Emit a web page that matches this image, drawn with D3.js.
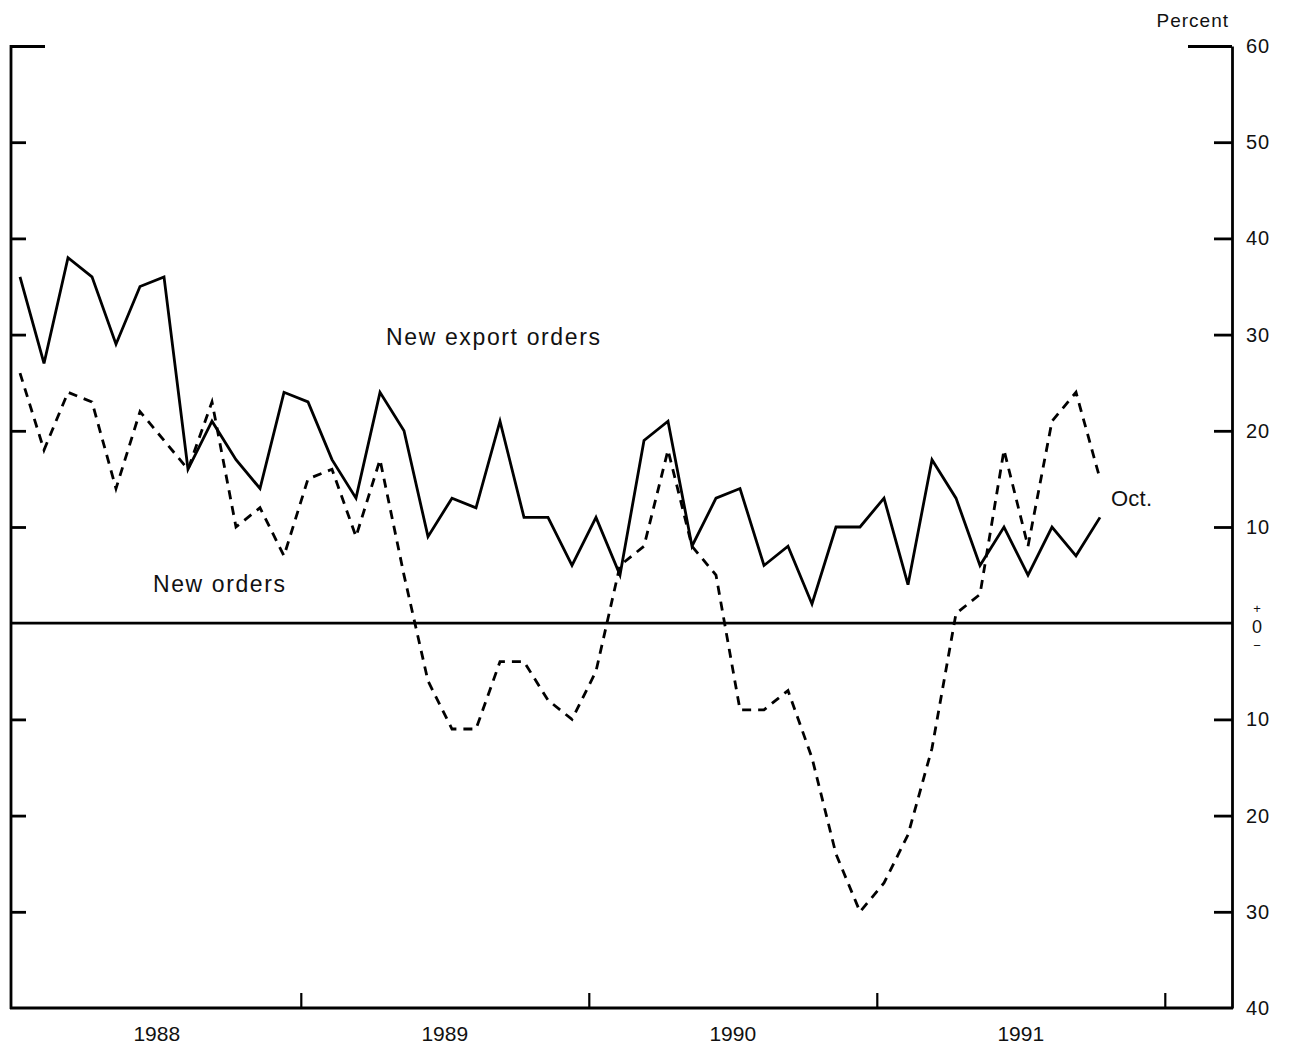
<!DOCTYPE html>
<html><head><meta charset="utf-8">
<script src="https://cdn.jsdelivr.net/npm/d3@7"></script>
<style>
body{margin:0;background:#fff;}
svg{display:block;background:#fff;}
text{font-family:"Liberation Sans",Arial,Helvetica,sans-serif;fill:#111;}
</style></head><body>
<svg id="chart" width="1290" height="1050"></svg>
<script>
// ---- data ----
const years = ["1988", "1989", "1990", "1991"];
const monthsShown = 46; // Jan 1988 .. Oct 1991
const exportOrders = [36,27,38,36,29,35,36,16,21,17,14,24,
                      23,17,13,24,20,9,13,12,21,11,11,6,
                      11,5,19,21,8,13,14,6,8,2,10,10,
                      13,4,17,13,6,10,5,10,7,11];
const newOrders = [26,18,24,23,14,22,19,16,23,10,12,7,
                   15,16,9,17,5,-6,-11,-11,-4,-4,-8,-10,
                   -5,6,8,18,8,5,-9,-9,-7,-14,-24,-30,
                   -27,-22,-13,1,3,18,8,21,24,15];
const yTicks = [60,50,40,30,20,10,0,-10,-20,-30,-40];
const yearTicks = ["1989","1990","1991","1992"];
const seriesNames = ["New export orders", "New orders"];
const unitLabel = "Percent";
const lastLabel = "Oct.";

// ---- layout ----
const L = 11, R = 1232, T = 46, B = 1008;
const SW = 2.8;
const svg = d3.select("#chart");

const monthIndex = d3.range(monthsShown);
const x = d3.scaleLinear().domain([-0.375, 50.5]).range([L, R]);
const y = d3.scaleLinear().domain([-40, 60]).range([B, T]);
const yearStart = k => 12 * k - 0.3;   // month-index position of a year boundary

// left frame line
svg.append("line").attr("x1", L).attr("x2", L).attr("y1", y(60) - 1).attr("y2", y(-40) + 1)
  .attr("stroke", "#000").attr("stroke-width", SW);

// right axis
const gR = svg.append("g").attr("transform", `translate(${R},0)`)
  .call(d3.axisRight(y).tickValues(yTicks).tickSizeInner(-18).tickSizeOuter(0).tickPadding(14)
        .tickFormat(d => d === 0 ? "" : Math.abs(d)));
gR.attr("font-size", 20).attr("font-family", "'Liberation Sans',Arial,sans-serif");
gR.select(".domain").attr("stroke", "#000").attr("stroke-width", SW);
gR.selectAll(".tick line").attr("stroke", "#000").attr("stroke-width", SW)
  .attr("x2", d => d === 60 ? -44 : (d === 0 || d === -40) ? 0 : -18);
gR.selectAll(".tick text").attr("fill", "#111").attr("letter-spacing", 1);

// zero sign label (+ above, 0, − below)
const zx = R + 25;
svg.append("text").attr("x", zx).attr("y", y(0) - 10).attr("text-anchor", "middle").attr("font-size", 13).text("+");
svg.append("text").attr("x", zx).attr("y", y(0) + 10).attr("text-anchor", "middle").attr("font-size", 18).text("0");
svg.append("text").attr("x", zx).attr("y", y(0) + 27).attr("text-anchor", "middle").attr("font-size", 13).text("\u2212");

// left ticks
const gL = svg.append("g").attr("transform", `translate(${L},0)`)
  .call(d3.axisLeft(y).tickValues(yTicks.filter(d => d !== 0 && d !== -40)).tickSizeInner(-15).tickSizeOuter(0).tickFormat(""));
gL.select(".domain").remove();
gL.selectAll(".tick line").attr("stroke", "#000").attr("stroke-width", SW)
  .attr("x2", d => d === 60 ? 34 : 15);

// bottom axis
const gB = svg.append("g").attr("transform", `translate(0,${B})`)
  .call(d3.axisBottom(x).tickValues(yearTicks.map((_, k) => yearStart(k + 1))).tickSizeInner(-15).tickSizeOuter(0).tickFormat(""));
gB.select(".domain").attr("stroke", "#000").attr("stroke-width", 3).attr("d", `M${L - 1},0H${R + 1}`);
gB.selectAll(".tick line").attr("stroke", "#000").attr("stroke-width", 2.2);

// year labels
svg.append("g").selectAll("text").data(years).join("text")
  .attr("x", (d, k) => x(12 * k + 5.7))
  .attr("y", B + 33)
  .attr("text-anchor", "middle")
  .attr("font-size", 21)
  .text(d => d);

// zero line
svg.append("line").attr("x1", L).attr("x2", R).attr("y1", y(0)).attr("y2", y(0))
  .attr("stroke", "#000").attr("stroke-width", SW);

// series
const line = d3.line().x((d, i) => x(monthIndex[i])).y(d => y(d));
svg.append("path").datum(newOrders).attr("d", line)
  .attr("fill", "none").attr("stroke", "#000").attr("stroke-width", SW)
  .attr("stroke-dasharray", "9,7");
svg.append("path").datum(exportOrders).attr("d", line)
  .attr("fill", "none").attr("stroke", "#000").attr("stroke-width", SW)
  .attr("stroke-linejoin", "miter");

// annotations
svg.append("text").attr("x", 386).attr("y", 345).attr("font-size", 23)
  .attr("textLength", 214).attr("lengthAdjust", "spacing").text(seriesNames[0]);
svg.append("text").attr("x", 153).attr("y", 592).attr("font-size", 23)
  .attr("textLength", 132).attr("lengthAdjust", "spacing").text(seriesNames[1]);
svg.append("text").attr("x", 1111).attr("y", 506).attr("font-size", 22)
  .attr("textLength", 41).attr("lengthAdjust", "spacing").text(lastLabel);
svg.append("text").attr("x", R - 3).attr("y", 27).attr("font-size", 19)
  .attr("text-anchor", "end").attr("letter-spacing", 1).text(unitLabel);
</script>
</body></html>
